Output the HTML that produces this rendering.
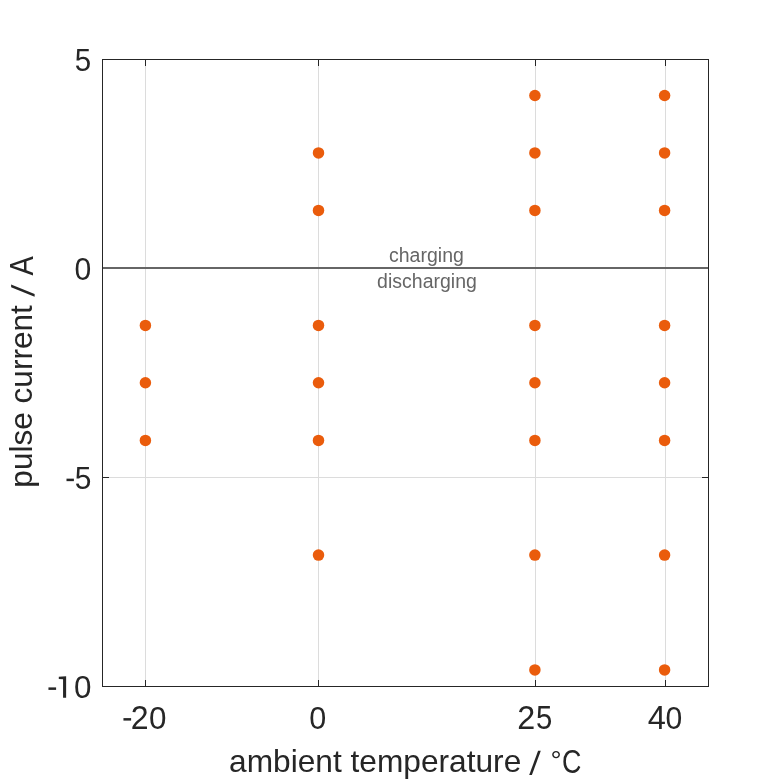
<!DOCTYPE html>
<html><head><meta charset="utf-8">
<style>
html,body{margin:0;padding:0;background:#fff;width:781px;height:781px;overflow:hidden}
svg{display:block}
text{font-family:"Liberation Sans",sans-serif}
</style></head>
<body>
<svg width="781" height="781" viewBox="0 0 781 781">
<rect x="0" y="0" width="781" height="781" fill="#fff"/>
<g stroke="#dcdcdc" stroke-width="1" fill="none" shape-rendering="crispEdges">
<path d="M145.5 60V686M318.5 60V686M535.5 60V686M665.5 60V686M103 477.5H708"/>
</g>
<line x1="103" y1="268" x2="708" y2="268" stroke="#666666" stroke-width="2" shape-rendering="crispEdges"/>
<g fill="#ea5c0c">
<circle cx="145.4" cy="325.4" r="5.75"/>
<circle cx="145.4" cy="382.8" r="5.75"/>
<circle cx="145.4" cy="440.4" r="5.75"/>
<circle cx="318.5" cy="152.9" r="5.75"/>
<circle cx="318.5" cy="210.4" r="5.75"/>
<circle cx="318.5" cy="325.4" r="5.75"/>
<circle cx="318.5" cy="382.8" r="5.75"/>
<circle cx="318.5" cy="440.4" r="5.75"/>
<circle cx="318.5" cy="555.1" r="5.75"/>
<circle cx="534.9" cy="95.5" r="5.75"/>
<circle cx="534.9" cy="152.9" r="5.75"/>
<circle cx="534.9" cy="210.4" r="5.75"/>
<circle cx="534.9" cy="325.4" r="5.75"/>
<circle cx="534.9" cy="382.8" r="5.75"/>
<circle cx="534.9" cy="440.4" r="5.75"/>
<circle cx="534.9" cy="555.1" r="5.75"/>
<circle cx="534.9" cy="669.9" r="5.75"/>
<circle cx="664.6" cy="95.5" r="5.75"/>
<circle cx="664.6" cy="152.9" r="5.75"/>
<circle cx="664.6" cy="210.4" r="5.75"/>
<circle cx="664.6" cy="325.4" r="5.75"/>
<circle cx="664.6" cy="382.8" r="5.75"/>
<circle cx="664.6" cy="440.4" r="5.75"/>
<circle cx="664.6" cy="555.1" r="5.75"/>
<circle cx="664.6" cy="669.9" r="5.75"/>
</g>
<g stroke="#262626" stroke-width="1" fill="none" shape-rendering="crispEdges">
<rect x="102.5" y="59.5" width="606" height="627"/>
<path d="M145.5 686V680M318.5 686V680M535.5 686V680M665.5 686V680M145.5 60V66M318.5 60V66M535.5 60V66M665.5 60V66M103 477.5H109M708 477.5H702"/>
</g>
<g style="will-change:transform">
<text transform="matrix(0.9521 0 0 1.0185 74.86 70.69)" font-size="31" fill="#262626">5</text>
<text transform="matrix(0.9730 0 0 1.0274 74.53 279.59)" font-size="31" fill="#262626">0</text>
<text transform="matrix(0.9658 0 0 1.0185 74.84 488.69)" font-size="31" fill="#262626">5</text>
<text transform="matrix(1.0135 0 0 1.0183 74.08 697.69)" font-size="31" fill="#262626">0</text>
<text transform="matrix(1.0355 0 0 1.0509 130.64 729.20)" font-size="31" fill="#262626">2</text>
<text transform="matrix(1.0135 0 0 1.0365 149.08 728.89)" font-size="31" fill="#262626">0</text>
<text transform="matrix(0.9865 0 0 1.0411 309.32 728.89)" font-size="31" fill="#262626">0</text>
<text transform="matrix(1.0426 0 0 1.0509 517.33 729.10)" font-size="31" fill="#262626">2</text>
<text transform="matrix(0.9452 0 0 1.0509 535.97 728.78)" font-size="31" fill="#262626">5</text>
<text transform="matrix(1.0513 0 0 1.0657 647.86 729.10)" font-size="31" fill="#262626">4</text>
<text transform="matrix(0.9730 0 0 1.0365 665.43 728.79)" font-size="31" fill="#262626">0</text>
<text transform="matrix(1.0219 0 0 1.0242 229.07 772.24)" font-size="31" fill="#262626">ambient temperature</text>
<text transform="matrix(0.8966 0 0 0.8721 550.39 769.64)" font-size="31" fill="#262626">°</text>
<text transform="matrix(0.8673 0 0 1.0457 561.91 772.99)" font-size="31" fill="#262626">C</text>
<text transform="matrix(0.9758 0 0 1.0000 389.02 261.80)" font-size="20" fill="#666666">charging</text>
<text transform="matrix(0.9750 0 0 1.0000 377.12 287.60)" font-size="20" fill="#666666">discharging</text>
<text transform="matrix(0 -1.0186 1.0346 0 32.28 487.64)" font-size="31" fill="#262626">pulse current</text>
<text transform="matrix(0 -0.9366 1.0423 0 33.10 275.39)" font-size="31" fill="#262626">A</text>
<g fill="#262626">
<polygon points="529.2,775 531.9,775 540.8,750.8 538.1,750.8"/>
<polygon points="11.1,284.6 11.1,287.3 34.6,296.8 34.6,294.1"/>
<rect x="66.5" y="478.65" width="7.4" height="2.5"/>
<rect x="48.45" y="687.4" width="7.65" height="2.5"/>
<rect x="123.45" y="718.1" width="7.65" height="2.5"/>
<polygon points="66.13,676.2 66.13,697.7 63.06,697.7 63.06,679.2 58.8,679.0 58.8,676.8"/>
</g>
</g>
</svg>
</body></html>
